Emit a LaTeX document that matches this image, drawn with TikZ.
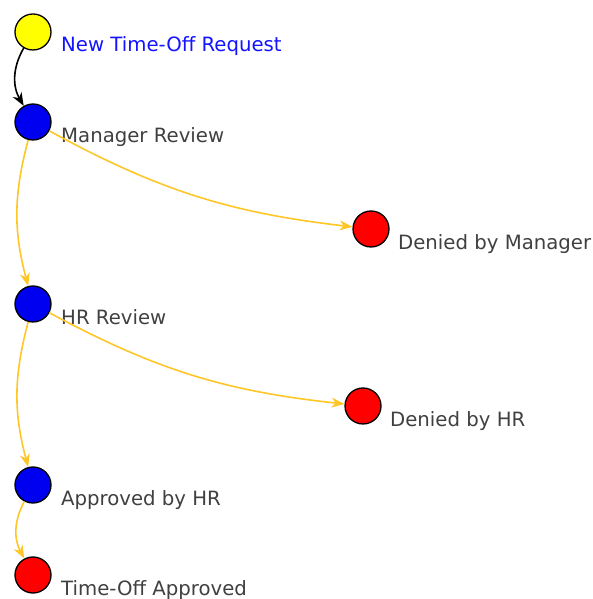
\documentclass[tikz,border=0pt]{standalone}
\usepackage{fontspec}
\setmainfont{DejaVu Sans}
\usetikzlibrary{arrows.meta}
\definecolor{edgegold}{RGB}{255,198,40}
\definecolor{labgray}{RGB}{64,64,64}
\definecolor{labblue}{RGB}{20,20,255}
\definecolor{nyellow}{RGB}{255,255,0}
\definecolor{nblue}{RGB}{0,0,240}
\definecolor{nred}{RGB}{255,0,0}
\tikzset{
  state/.style={circle,draw=black,line width=1.3pt,minimum size=36pt,inner sep=0pt},
  lab/.style={anchor=base west,inner sep=0pt,text=labgray,font=\fontsize{19.7}{22}\selectfont},
  goldarrow/.style={draw=edgegold,line width=1.6pt,-{Stealth[length=13pt,width=10pt,inset=4pt]}},
  blackarrow/.style={draw=black,line width=1.6pt,-{Stealth[length=13pt,width=10pt,inset=4pt]}}
}
\begin{document}
\begin{tikzpicture}[x=1pt,y=1pt]
\useasboundingbox (0,0) rectangle (592,599);
\node[state,fill=nyellow] (new) at (33,567) {};
\node[state,fill=nblue] (mgr) at (33,477) {};
\node[state,fill=nred] (dm) at (371,370) {};
\node[state,fill=nblue] (hr) at (33,295) {};
\node[state,fill=nred] (dhr) at (363,193) {};
\node[state,fill=nblue] (ahr) at (33,114) {};
\node[state,fill=nred] (toa) at (33,24) {};

\node[lab,text=labblue] (lnew) at (61,547) {New Time-Off Request};
\node[lab] (lmgr) at (61,456) {Manager Review};
\node[lab] (ldm) at (398,349) {Denied by Manager};
\node[lab] (lhr) at (61,274) {HR Review};
\node[lab] (ldhr) at (390,172) {Denied by HR};
\node[lab] (lahr) at (61,93) {Approved by HR};
\node[lab] (ltoa) at (61,4) {Time-Off Approved};

\draw[blackarrow] (new) to[bend right=30] (mgr);
\draw[goldarrow] (mgr) to[bend right=15] (hr);
\draw[goldarrow] (mgr) to[bend right=11] (dm);
\draw[goldarrow] (hr) to[bend right=15] (ahr);
\draw[goldarrow] (hr) to[bend right=11] (dhr);
\draw[goldarrow] (ahr) to[bend right=28] (toa);
\end{tikzpicture}
\end{document}
